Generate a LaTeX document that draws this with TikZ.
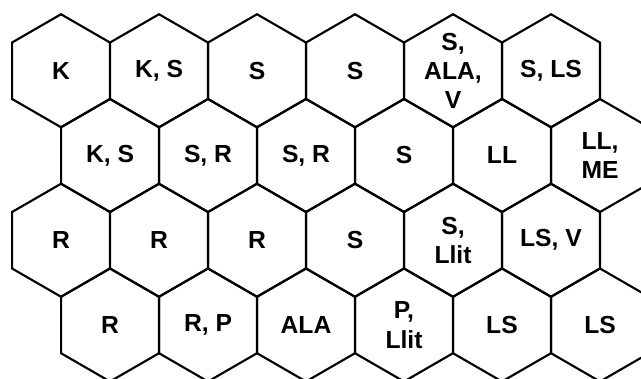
\documentclass[tikz,border=0pt]{standalone}
\usepackage{fontspec}
\setmainfont{Liberation Sans}
\usetikzlibrary{shapes.geometric}

\begin{document}
\begin{tikzpicture}[
  x=0.75pt, y=-0.75pt,
  hex/.style={draw, line width=1.6pt, regular polygon, regular polygon sides=6,
    regular polygon rotate=30, minimum size=84.75pt, inner sep=0pt},
  txt/.style={align=center, inner sep=0pt, font=\fontsize{18.5}{22}\selectfont\bfseries}
]
\useasboundingbox (0,0) rectangle (641,378);
\clip (0,0) rectangle (641,378);

% Row 1
\node[hex, label={[txt]center:K}] (a1) at (61,70.75) {};
\node[hex, label={[txt]center:K, S}] (a2) at (159,70.75) {};
\node[hex, label={[txt]center:S}] (a3) at (257,70.75) {};
\node[hex, label={[txt]center:S}] (a4) at (355,70.75) {};
\node[hex, label={[txt]center:{S,\\ALA,\\V}}] (a5) at (453,70.75) {};
\node[hex, label={[txt]center:{S, LS}}] (a6) at (551,70.75) {};

% Row 2
\node[hex, label={[txt]center:{K, S}}] (b1) at (110,155.5) {};
\node[hex, label={[txt]center:{S, R}}] (b2) at (208,155.5) {};
\node[hex, label={[txt]center:{S, R}}] (b3) at (306,155.5) {};
\node[hex, label={[txt]center:S}] (b4) at (404,155.5) {};
\node[hex, label={[txt]center:LL}] (b5) at (502,155.5) {};
\node[hex, label={[txt]center:{LL,\\ME}}] (b6) at (600,155.5) {};

% Row 3
\node[hex, label={[txt]center:R}] (c1) at (61,240.25) {};
\node[hex, label={[txt]center:R}] (c2) at (159,240.25) {};
\node[hex, label={[txt]center:R}] (c3) at (257,240.25) {};
\node[hex, label={[txt]center:S}] (c4) at (355,240.25) {};
\node[hex, label={[txt]center:{S,\\Llit}}] (c5) at (453,240.25) {};
\node[hex, label={[txt]center:{LS, V}}] (c6) at (551,240.25) {};

% Row 4
\node[hex, label={[txt]center:R}] (d1) at (110,325) {};
\node[hex, label={[txt]center:{R, P}}] (d2) at (208,325) {};
\node[hex, label={[txt]center:ALA}] (d3) at (306,325) {};
\node[hex, label={[txt]center:{P,\\Llit}}] (d4) at (404,325) {};
\node[hex, label={[txt]center:LS}] (d5) at (502,325) {};
\node[hex, label={[txt]center:LS}] (d6) at (600,325) {};

\end{tikzpicture}
\end{document}
